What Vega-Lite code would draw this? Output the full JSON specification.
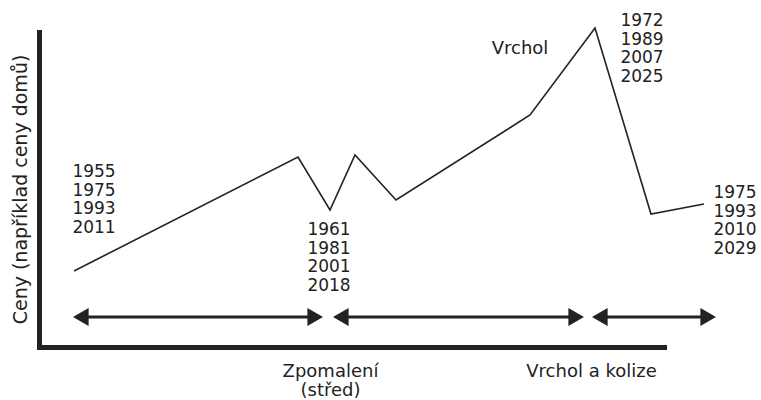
{
  "$schema": "https://vega.github.io/schema/vega-lite/v6.json",
  "width": 625,
  "height": 315,
  "autosize": {"type": "none"},
  "padding": {"left": 39, "top": 32, "right": 97, "bottom": 53},
  "background": "white",
  "config": {"view": {"stroke": null}, "font": "DejaVu Sans"},
  "datasets": {
    "cycle": [
      {"t": 35, "price": 76},
      {"t": 259, "price": 190},
      {"t": 291, "price": 137},
      {"t": 316, "price": 192},
      {"t": 357, "price": 147},
      {"t": 491, "price": 232},
      {"t": 556, "price": 319},
      {"t": 612, "price": 133},
      {"t": 665, "price": 143}
    ],
    "arrows": [
      {"phase": "Zpomalení", "start": 34, "end": 284, "level": 30},
      {"phase": "Vrchol", "start": 294, "end": 545, "level": 30},
      {"phase": "Kolize", "start": 553, "end": 677, "level": 30}
    ],
    "years": [
      {"year": "1955", "t": 55, "price": 175},
      {"year": "1975", "t": 55, "price": 156.3},
      {"year": "1993", "t": 55, "price": 137.6},
      {"year": "2011", "t": 55, "price": 118.9},
      {"year": "1961", "t": 290, "price": 117},
      {"year": "1981", "t": 290, "price": 98.3},
      {"year": "2001", "t": 290, "price": 79.6},
      {"year": "2018", "t": 290, "price": 60.9},
      {"year": "1972", "t": 603, "price": 326},
      {"year": "1989", "t": 603, "price": 307.3},
      {"year": "2007", "t": 603, "price": 288.6},
      {"year": "2025", "t": 603, "price": 269.9},
      {"year": "1975", "t": 696, "price": 154},
      {"year": "1993", "t": 696, "price": 135.3},
      {"year": "2010", "t": 696, "price": 116.6},
      {"year": "2029", "t": 696, "price": 97.9}
    ],
    "labels": [
      {"label": ["Vrchol"], "t": 481, "price": 298},
      {"label": ["Zpomalení", "(střed)"], "t": 291.5, "price": -25},
      {"label": ["Vrchol a kolize"], "t": 552.5, "price": -25}
    ]
  },
  "layer": [
    {
      "data": {"name": "cycle"},
      "mark": {"type": "line", "color": "#222", "strokeWidth": 1.6, "clip": false},
      "encoding": {
        "x": {
          "field": "t", "type": "quantitative",
          "scale": {"domain": [0, 625], "nice": false, "zero": false},
          "axis": {
            "title": null, "labels": false, "ticks": false, "grid": false,
            "domainWidth": 5, "domainColor": "#222", "domainCap": "square"
          }
        },
        "y": {
          "field": "price", "type": "quantitative",
          "scale": {"domain": [0, 315], "nice": false, "zero": false},
          "axis": {
            "title": "Ceny (například ceny domů)", "labels": false, "ticks": false, "grid": false,
            "domainWidth": 5, "domainColor": "#222", "domainCap": "square",
            "titleFont": "DejaVu Sans", "titleFontSize": 19, "titleFontWeight": "normal",
            "titleColor": "#222", "titleX": -19, "titleY": 157, "titleAngle": 270,
            "titleAlign": "center", "titleBaseline": "middle"
          }
        }
      }
    },
    {
      "data": {"name": "arrows"},
      "mark": {"type": "rule", "color": "#222", "strokeWidth": 3, "xOffset": 4, "x2Offset": -4, "clip": false},
      "encoding": {
        "x": {"field": "start", "type": "quantitative", "scale": {"domain": [0, 625], "nice": false, "zero": false}},
        "x2": {"field": "end"},
        "y": {"field": "level", "type": "quantitative", "scale": {"domain": [0, 315], "nice": false, "zero": false}}
      }
    },
    {
      "data": {"name": "arrows"},
      "mark": {"type": "point", "shape": "triangle-left", "filled": true, "color": "#222", "opacity": 1, "size": 324, "xOffset": 7.8, "clip": false},
      "encoding": {
        "x": {"field": "start", "type": "quantitative", "scale": {"domain": [0, 625], "nice": false, "zero": false}},
        "y": {"field": "level", "type": "quantitative", "scale": {"domain": [0, 315], "nice": false, "zero": false}}
      }
    },
    {
      "data": {"name": "arrows"},
      "mark": {"type": "point", "shape": "triangle-right", "filled": true, "color": "#222", "opacity": 1, "size": 324, "xOffset": -7.8, "clip": false},
      "encoding": {
        "x": {"field": "end", "type": "quantitative", "scale": {"domain": [0, 625], "nice": false, "zero": false}},
        "y": {"field": "level", "type": "quantitative", "scale": {"domain": [0, 315], "nice": false, "zero": false}}
      }
    },
    {
      "data": {"name": "years"},
      "mark": {"type": "text", "font": "DejaVu Sans", "fontSize": 17, "color": "#222", "align": "center", "baseline": "middle", "clip": false},
      "encoding": {
        "x": {"field": "t", "type": "quantitative", "scale": {"domain": [0, 625], "nice": false, "zero": false}},
        "y": {"field": "price", "type": "quantitative", "scale": {"domain": [0, 315], "nice": false, "zero": false}},
        "text": {"field": "year"}
      }
    },
    {
      "data": {"name": "labels"},
      "mark": {"type": "text", "font": "DejaVu Sans", "fontSize": 18, "lineHeight": 18.5, "color": "#222", "align": "center", "baseline": "middle", "clip": false},
      "encoding": {
        "x": {"field": "t", "type": "quantitative", "scale": {"domain": [0, 625], "nice": false, "zero": false}},
        "y": {"field": "price", "type": "quantitative", "scale": {"domain": [0, 315], "nice": false, "zero": false}},
        "text": {"field": "label"}
      }
    }
  ]
}
